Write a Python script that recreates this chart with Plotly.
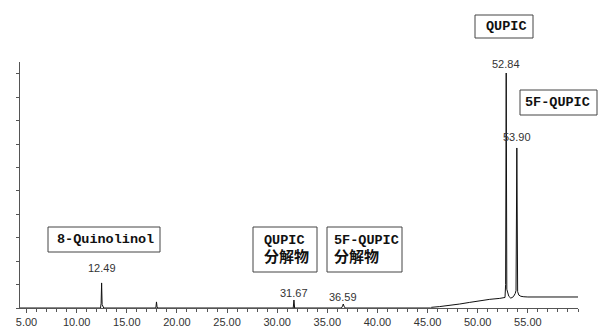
import plotly.graph_objects as go

# ---- data ----
time_min = [4.35, 12.38, 12.44, 12.49, 12.54, 12.58, 12.62, 12.70, 17.90, 17.96, 18.02, 18.08,
            31.60, 31.67, 31.74, 36.40, 36.52, 36.59, 36.66, 36.78,
            45.30, 45.40, 46.20, 47.20, 48.20, 49.20, 50.20, 51.20, 52.20, 52.72, 52.78,
            52.84, 52.90, 52.98, 53.10, 53.30, 53.55, 53.74, 53.82, 53.90, 53.98, 54.10,
            54.30, 54.60, 55.00, 60.00]
signal = [0.00, 0.00, 0.20, 1.07, 0.15, 0.12, 0.10, 0.00, 0.00, 0.26, 0.05, 0.00,
          0.00, 0.34, 0.00, 0.00, 0.08, 0.17, 0.08, 0.00,
          0.00, 0.03, 0.06, 0.10, 0.17, 0.24, 0.31, 0.37, 0.41, 0.45, 1.00,
          10.03, 0.80, 0.62, 0.50, 0.42, 0.48, 0.62, 0.75, 6.83, 0.70, 0.55,
          0.50, 0.48, 0.47, 0.47]

peak_times = [12.49, 31.67, 36.59, 52.84, 53.90]
peak_labels = ["12.49", "31.67", "36.59", "52.84", "53.90"]
peak_label_y = [1.71, 0.64, 0.47, 10.41, 7.30]

x_tickvals = [5, 10, 15, 20, 25, 30, 35, 40, 45, 50, 55]
x_ticktext = ["5.00", "10.00", "15.00", "20.00", "25.00", "30.00",
              "35.00", "40.00", "45.00", "50.00", "55.00"]

# compound name boxes: text, box (left, top, right, bottom) in pixels, text left x
cjk = '<span style="font-size:15px">分解物</span>'
box_texts = ["8-Quinolinol", "QUPIC<br>" + cjk, "5F-QUPIC<br>" + cjk, "QUPIC", "5F-QUPIC"]
box_px = [(48, 227, 160, 252), (253, 227, 317, 272), (327, 227, 402, 272),
          (475, 15, 533, 38), (520, 90, 597, 115)]
text_left_px = [55, 262, 332, 484, 523]

# ---- layout geometry ----
W, H = 599, 329
ML, MR, MT, MB = 20, 21, 62, 21
PW, PH = W - ML - MR, H - MT - MB


def to_px(x):
    return (x - ML) / PW


def to_py(y):
    return (H - MB - y) / PH


fig = go.Figure()
fig.add_trace(go.Scatter(x=time_min, y=signal, mode="lines",
                         line=dict(color="#111111", width=1),
                         hoverinfo="skip", showlegend=False))

annotations = []
for t, lab, ly in zip(peak_times, peak_labels, peak_label_y):
    annotations.append(dict(x=t, y=ly, xref="x", yref="y", text=lab, showarrow=False,
                            xanchor="center", yanchor="middle",
                            font=dict(family="Liberation Sans, Arial, sans-serif",
                                      size=11, color="#333333")))

shapes = []
for txt, (l, tp, r, b), tl in zip(box_texts, box_px, text_left_px):
    shapes.append(dict(type="rect", xref="paper", yref="paper",
                       x0=to_px(l), x1=to_px(r), y0=to_py(b), y1=to_py(tp),
                       line=dict(color="#444444", width=1), fillcolor="white", layer="above"))
    annotations.append(dict(x=to_px(tl), y=to_py((tp + b) / 2), xref="paper", yref="paper",
                            text="<b>" + txt + "</b>", showarrow=False,
                            xanchor="left", yanchor="middle", align="left",
                            font=dict(family="Liberation Mono, Noto Sans CJK JP, monospace",
                                      size=13.5, color="#111111")))

fig.update_layout(
    width=W, height=H,
    margin=dict(l=ML, r=MR, t=MT, b=MB, autoexpand=False),
    paper_bgcolor="white", plot_bgcolor="white",
    shapes=shapes, annotations=annotations,
    xaxis=dict(range=[4.35, 60.0], tickvals=x_tickvals, ticktext=x_ticktext,
               showgrid=False, zeroline=False, showline=True, linecolor="#555555",
               linewidth=1, ticks="outside", ticklen=4, tickcolor="#555555",
               tickfont=dict(family="Liberation Sans, Arial, sans-serif", size=11, color="#333333"),
               minor=dict(dtick=1, tick0=0, ticks="outside", ticklen=3, tickcolor="#555555")),
    yaxis=dict(range=[0, 10.5], dtick=1, tick0=0, showticklabels=False,
               showgrid=False, zeroline=False, showline=True, linecolor="#555555",
               linewidth=1, ticks="outside", ticklen=3, tickcolor="#555555"),
)

fig.write_html("out.html", config={"displayModeBar": False},
               post_script="document.body.style.margin='0';document.body.style.overflow='hidden';")
